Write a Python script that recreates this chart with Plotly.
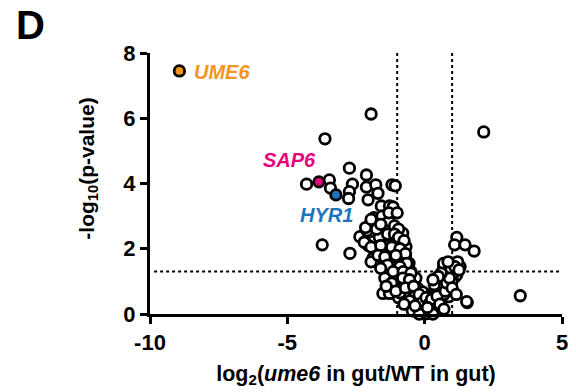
import plotly.graph_objects as go

# log2 fold change (ume6 in gut / WT in gut) and -log10(p-value) for all genes
log2fc = [
    -1.95, -3.63, 2.15, -2.74, -2.12, -4.30, -3.47, -3.43, -2.63, -2.74,
    -2.77, -2.12, -1.78, -1.70, -2.06, -1.19, -1.07, -1.58, -1.28, -1.15,
    -2.00, -1.70, -1.46, -1.94, -1.58, -1.28, -0.80, -2.36, -1.88, -1.46,
    -1.04, -1.76, -1.40, -0.98, -0.68, -2.72, -3.73, -1.88, -1.58, -1.16,
    -0.80, -0.57, -1.76, -1.46, -1.85, -1.55, -1.30, -1.10, -0.90, -1.20,
    -1.65, -2.05, -1.30, -0.85, -1.00, -1.25, -2.10, -0.95, -1.75, -0.70,
    -1.34, -0.98, -0.68, -1.04, -1.52, -1.28, -0.74, -0.56, -0.32, -0.14,
    0.04, -0.08, 0.15, -1.20, -0.90, -0.60, -0.50, -0.85, -1.10, -0.45,
    -0.35, -0.25, -0.20, -0.05, -0.15, -0.40, -0.30, 0.00, -0.60, -0.95,
    -0.70, -0.90, -0.32, -0.26, -0.50, -0.80, -0.62, -0.42, -1.15, -0.75,
    0.28, 0.57, 0.75, 0.69, 0.46, 0.87, 1.17, 1.09, 1.47, 1.80,
    3.48, 1.55, 0.99, 1.29, 0.69, 1.11, 0.93, 0.51, 0.39, 0.64,
    0.87, 1.17, 0.64, 0.99, 0.39, 0.57, -0.08, 0.15, 0.51, 0.15,
    -0.20, 1.53, 0.05, 0.20, 0.30, -0.10, 0.10, 0.35, 0.25, 0.80,
    1.05, 0.95, 0.45, 0.70, 0.20, 0.60, 0.33, 1.20, 0.08, -0.02,
    -2.15, -1.95, -1.75, -1.60, -1.35, -1.10, -0.95, -0.75, -2.20, -1.95,
    -1.60, -1.20, -0.90, -0.70, -1.95, -1.70, -1.45, -1.05, -0.65, -0.90,
    -1.35, -1.60, -1.15, -0.78, -0.50, -1.45, -1.20, -0.80, -0.55, -1.40,
    -1.05, -0.70, -0.40, -0.55, -0.75, -0.45, -0.20, -0.10, 0.05, 0.15,
    0.25, 0.40, 0.45, 0.55, 0.65, 0.75, 0.80, 0.90, 1.00, 1.10,
    0.85, 1.25, 0.60, 0.50, 0.35, 0.30, 1.15, 0.70, 0.00, 0.30,
    -0.20, -0.35, 0.10, -1.30, -1.00,
]
neglog10p = [
    6.13, 5.37, 5.58, 4.47, 4.26, 3.98, 4.11, 3.86, 3.98, 3.75,
    3.54, 3.89, 3.96, 3.70, 3.50, 3.96, 3.93, 3.31, 3.31, 3.28,
    2.73, 2.83, 2.73, 2.48, 2.48, 2.58, 2.48, 2.37, 2.22, 2.22,
    2.27, 1.96, 1.96, 1.96, 2.06, 1.86, 2.12, 1.71, 1.66, 1.71,
    1.66, 1.56, 1.60, 1.60, 2.95, 3.00, 2.85, 2.70, 2.20, 2.40,
    2.35, 2.10, 2.10, 1.85, 1.55, 1.80, 2.55, 2.60, 2.05, 1.80,
    1.25, 1.35, 1.20, 1.10, 0.63, 0.63, 0.74, 0.53, 0.38, 0.22,
    0.17, 0.02, 0.02, 1.45, 1.05, 0.95, 0.75, 0.90, 0.85, 0.60,
    0.55, 0.30, 0.45, 0.10, 0.05, 0.20, 0.12, 0.30, 0.35, 0.50,
    0.50, 0.65, 1.10, 0.79, 1.30, 1.40, 1.00, 0.85, 1.20, 1.50,
    0.63, 0.84, 1.04, 1.45, 0.38, 0.53, 2.35, 2.12, 2.12, 1.93,
    0.56, 0.35, 1.56, 1.45, 1.55, 1.14, 0.94, 0.99, 0.84, 0.63,
    1.35, 1.20, 1.10, 0.99, 0.99, 0.79, 0.68, 0.53, 0.48, 0.22,
    0.43, 0.38, 0.08, 0.10, 0.20, 0.15, 0.40, 0.35, 0.05, 0.80,
    1.25, 1.40, 0.70, 0.60, 0.45, 0.25, 0.15, 1.60, 0.28, 0.40,
    2.65, 2.90, 2.60, 2.75, 2.45, 2.45, 2.35, 2.25, 2.20, 2.05,
    2.10, 2.05, 2.00, 1.85, 1.60, 1.80, 1.75, 1.80, 1.55, 1.45,
    1.50, 1.40, 1.30, 1.30, 1.25, 1.10, 0.95, 1.10, 1.05, 0.85,
    0.70, 0.80, 0.85, 0.40, 0.30, 0.10, 0.60, 0.35, 0.50, 0.30,
    0.45, 0.10, 0.55, 0.30, 0.85, 0.70, 0.95, 1.10, 0.80, 1.45,
    1.60, 1.35, 1.25, 1.15, 0.90, 1.05, 0.60, 0.15, 0.00, 0.00,
    0.00, 0.25, 0.20, 3.10, 3.10,
]

# highlighted genes
hl_names = ["UME6", "SAP6", "HYR1"]
hl_x = [-8.93, -3.85, -3.23]
hl_y = [7.45, 4.05, 3.65]
hl_colors = ["#F7941D", "#E6007E", "#1C75BC"]
hl_label_x = [-8.47, -5.96, -4.63]
hl_label_y = [7.42, 4.72, 3.04]

# significance thresholds
fc_cut = [-1, 1]
p_cut = 1.301

x_ticks = [-10, -5, 0, 5]
y_ticks = [0, 2, 4, 6, 8]

FONT = "Liberation Sans, Arial, sans-serif"

fig = go.Figure()

# threshold lines
for xv in fc_cut:
    fig.add_shape(type="line", x0=xv, x1=xv, y0=0, y1=8, xref="x", yref="y",
                  line=dict(color="black", width=2, dash="dot"), layer="below")
fig.add_shape(type="line", x0=-9.85, x1=5.05, y0=p_cut, y1=p_cut, xref="x", yref="y",
              line=dict(color="black", width=2, dash="dot"), layer="below")

fig.add_trace(go.Scatter(
    x=log2fc, y=neglog10p, mode="markers", cliponaxis=False,
    marker=dict(size=10.5, color="white", line=dict(color="black", width=2.8)),
    hoverinfo="skip", showlegend=False,
))

fig.add_trace(go.Scatter(
    x=hl_x, y=hl_y, mode="markers", cliponaxis=False,
    marker=dict(size=10.5, color=hl_colors, line=dict(color="black", width=2.8)),
    hoverinfo="skip", showlegend=False,
))

for name, lx, ly, c in zip(hl_names, hl_label_x, hl_label_y, hl_colors):
    fig.add_annotation(x=lx, y=ly, text=f"<b><i>{name}</i></b>", showarrow=False,
                       xanchor="left", yanchor="middle",
                       font=dict(family=FONT, size=20, color=c))

# panel letter
fig.add_annotation(x=-0.33, y=1.2, xref="paper", yref="paper", text="<b>D</b>",
                   showarrow=False, xanchor="left", yanchor="top",
                   font=dict(family=FONT, size=40, color="black"))

# y-axis title placed as a rotated annotation
fig.add_annotation(x=-0.151, y=0.556, xref="paper", yref="paper",
                   text="<b>-log<sub>10</sub>(p-value)</b>", textangle=-90,
                   showarrow=False, xanchor="center", yanchor="middle",
                   font=dict(family=FONT, size=21, color="black"))

axis_common = dict(
    showline=True, linecolor="black", linewidth=3,
    ticks="outside", ticklen=7, tickwidth=3, tickcolor="black",
    showgrid=False, zeroline=False,
    tickfont=dict(family=FONT, size=22, color="black", weight="bold"),
)

fig.update_xaxes(range=[-10, 5], tickvals=x_ticks, ticktext=[str(v) for v in x_ticks],
                 title=dict(text="log<sub>2</sub>(<i>ume6</i> in gut/WT in gut)",
                            font=dict(family=FONT, size=21.5, color="black", weight="bold"),
                            standoff=12),
                 **axis_common)
fig.update_yaxes(range=[0, 8], tickvals=y_ticks, **axis_common)

fig.update_layout(
    width=576, height=392,
    margin=dict(l=150, r=8, t=53, b=78),
    plot_bgcolor="white", paper_bgcolor="white",
    font=dict(family=FONT),
)

fig.write_html("out.html")
